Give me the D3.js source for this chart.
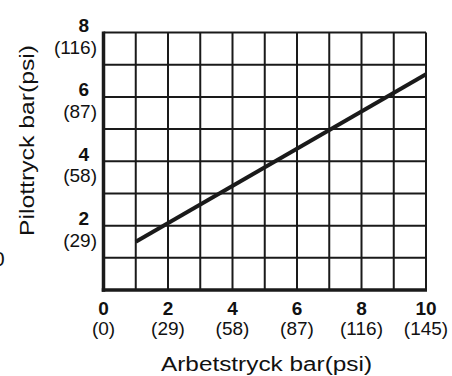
<!DOCTYPE html>
<html>
<head>
<meta charset="utf-8">
<script src="https://cdn.jsdelivr.net/npm/d3@7"></script>
<style>
  html, body { margin: 0; padding: 0; background: #fff; }
  svg { display: block; }
  text { font-family: "Liberation Sans", Arial, Helvetica, sans-serif; fill: #111; }
</style>
</head>
<body>
<svg id="chart" width="452" height="376"></svg>
<script>
// Operating pressure (bar) vs. pilot pressure (bar)
const arbetstryck = [1, 10];
const pilottryck = [1.5, 6.7];

// Axis tick labels: bar value with psi equivalent beneath
const xTickBar = [0, 2, 4, 6, 8, 10];
const xTickPsi = ["(0)", "(29)", "(58)", "(87)", "(116)", "(145)"];
const yTickBar = [2, 4, 6, 8];
const yTickPsi = ["(29)", "(58)", "(87)", "(116)"];

const xTitle = "Arbetstryck bar(psi)";
const yTitle = "Pilottryck bar(psi)";

const svg = d3.select("#chart");
const ink = "#1a1a1a";

const x = d3.scaleLinear().domain([0, 10]).range([103.5, 426]);
const y = d3.scaleLinear().domain([0, 8]).range([290, 32.5]);

// Grid: one cell per bar on both axes
const grid = svg.append("g").attr("stroke", ink).attr("stroke-width", 2);
grid.selectAll("line.v").data(d3.range(1, 11)).join("line")
  .attr("class", "v")
  .attr("x1", d => x(d)).attr("x2", d => x(d))
  .attr("y1", y(8)).attr("y2", y(0));
grid.selectAll("line.h").data(d3.range(1, 9)).join("line")
  .attr("class", "h")
  .attr("x1", x(0)).attr("x2", x(10))
  .attr("y1", d => y(d)).attr("y2", d => y(d));

// Heavier left and bottom axes
svg.append("line")
  .attr("x1", x(0)).attr("x2", x(0))
  .attr("y1", y(8) - 1).attr("y2", y(0) + 1.75)
  .attr("stroke", ink).attr("stroke-width", 3.5);
svg.append("line")
  .attr("x1", x(0) - 1.75).attr("x2", x(10) + 1)
  .attr("y1", y(0)).attr("y2", y(0))
  .attr("stroke", ink).attr("stroke-width", 3.5);

// Characteristic line
const line = d3.line().x(d => x(d[0])).y(d => y(d[1]));
svg.append("path")
  .datum(d3.zip(arbetstryck, pilottryck))
  .attr("d", line)
  .attr("fill", "none")
  .attr("stroke", ink)
  .attr("stroke-width", 4)
  .attr("stroke-linecap", "butt");

// X tick labels
const xl = svg.append("g").attr("text-anchor", "middle");
xl.selectAll("text.bar").data(xTickBar).join("text")
  .attr("class", "bar")
  .attr("x", d => x(d)).attr("y", 315)
  .attr("font-size", 19).attr("font-weight", "bold")
  .text(d => d);
xl.selectAll("text.psi").data(xTickPsi).join("text")
  .attr("class", "psi")
  .attr("x", (d, i) => x(xTickBar[i])).attr("y", 335)
  .attr("font-size", 19)
  .text(d => d);

// Y tick labels
const yl = svg.append("g").attr("text-anchor", "end");
yl.selectAll("text.bar").data(yTickBar).join("text")
  .attr("class", "bar")
  .attr("x", 89).attr("y", d => y(d) - 0.5)
  .attr("font-size", 19).attr("font-weight", "bold")
  .text(d => d);
yl.selectAll("text.psi").data(yTickPsi).join("text")
  .attr("class", "psi")
  .attr("x", 97).attr("y", (d, i) => y(yTickBar[i]) + 21)
  .attr("font-size", 19)
  .text(d => d);

// Axis titles
svg.append("text")
  .attr("x", 161).attr("y", 371)
  .attr("font-size", 20)
  .attr("textLength", 211).attr("lengthAdjust", "spacingAndGlyphs")
  .text(xTitle);
svg.append("text")
  .attr("transform", "translate(34,236) rotate(-90)")
  .attr("font-size", 20)
  .attr("textLength", 191).attr("lengthAdjust", "spacingAndGlyphs")
  .text(yTitle);

// Stray zero at the left margin
svg.append("text")
  .attr("x", -7).attr("y", 266)
  .attr("font-size", 21)
  .text("0");
</script>
</body>
</html>
